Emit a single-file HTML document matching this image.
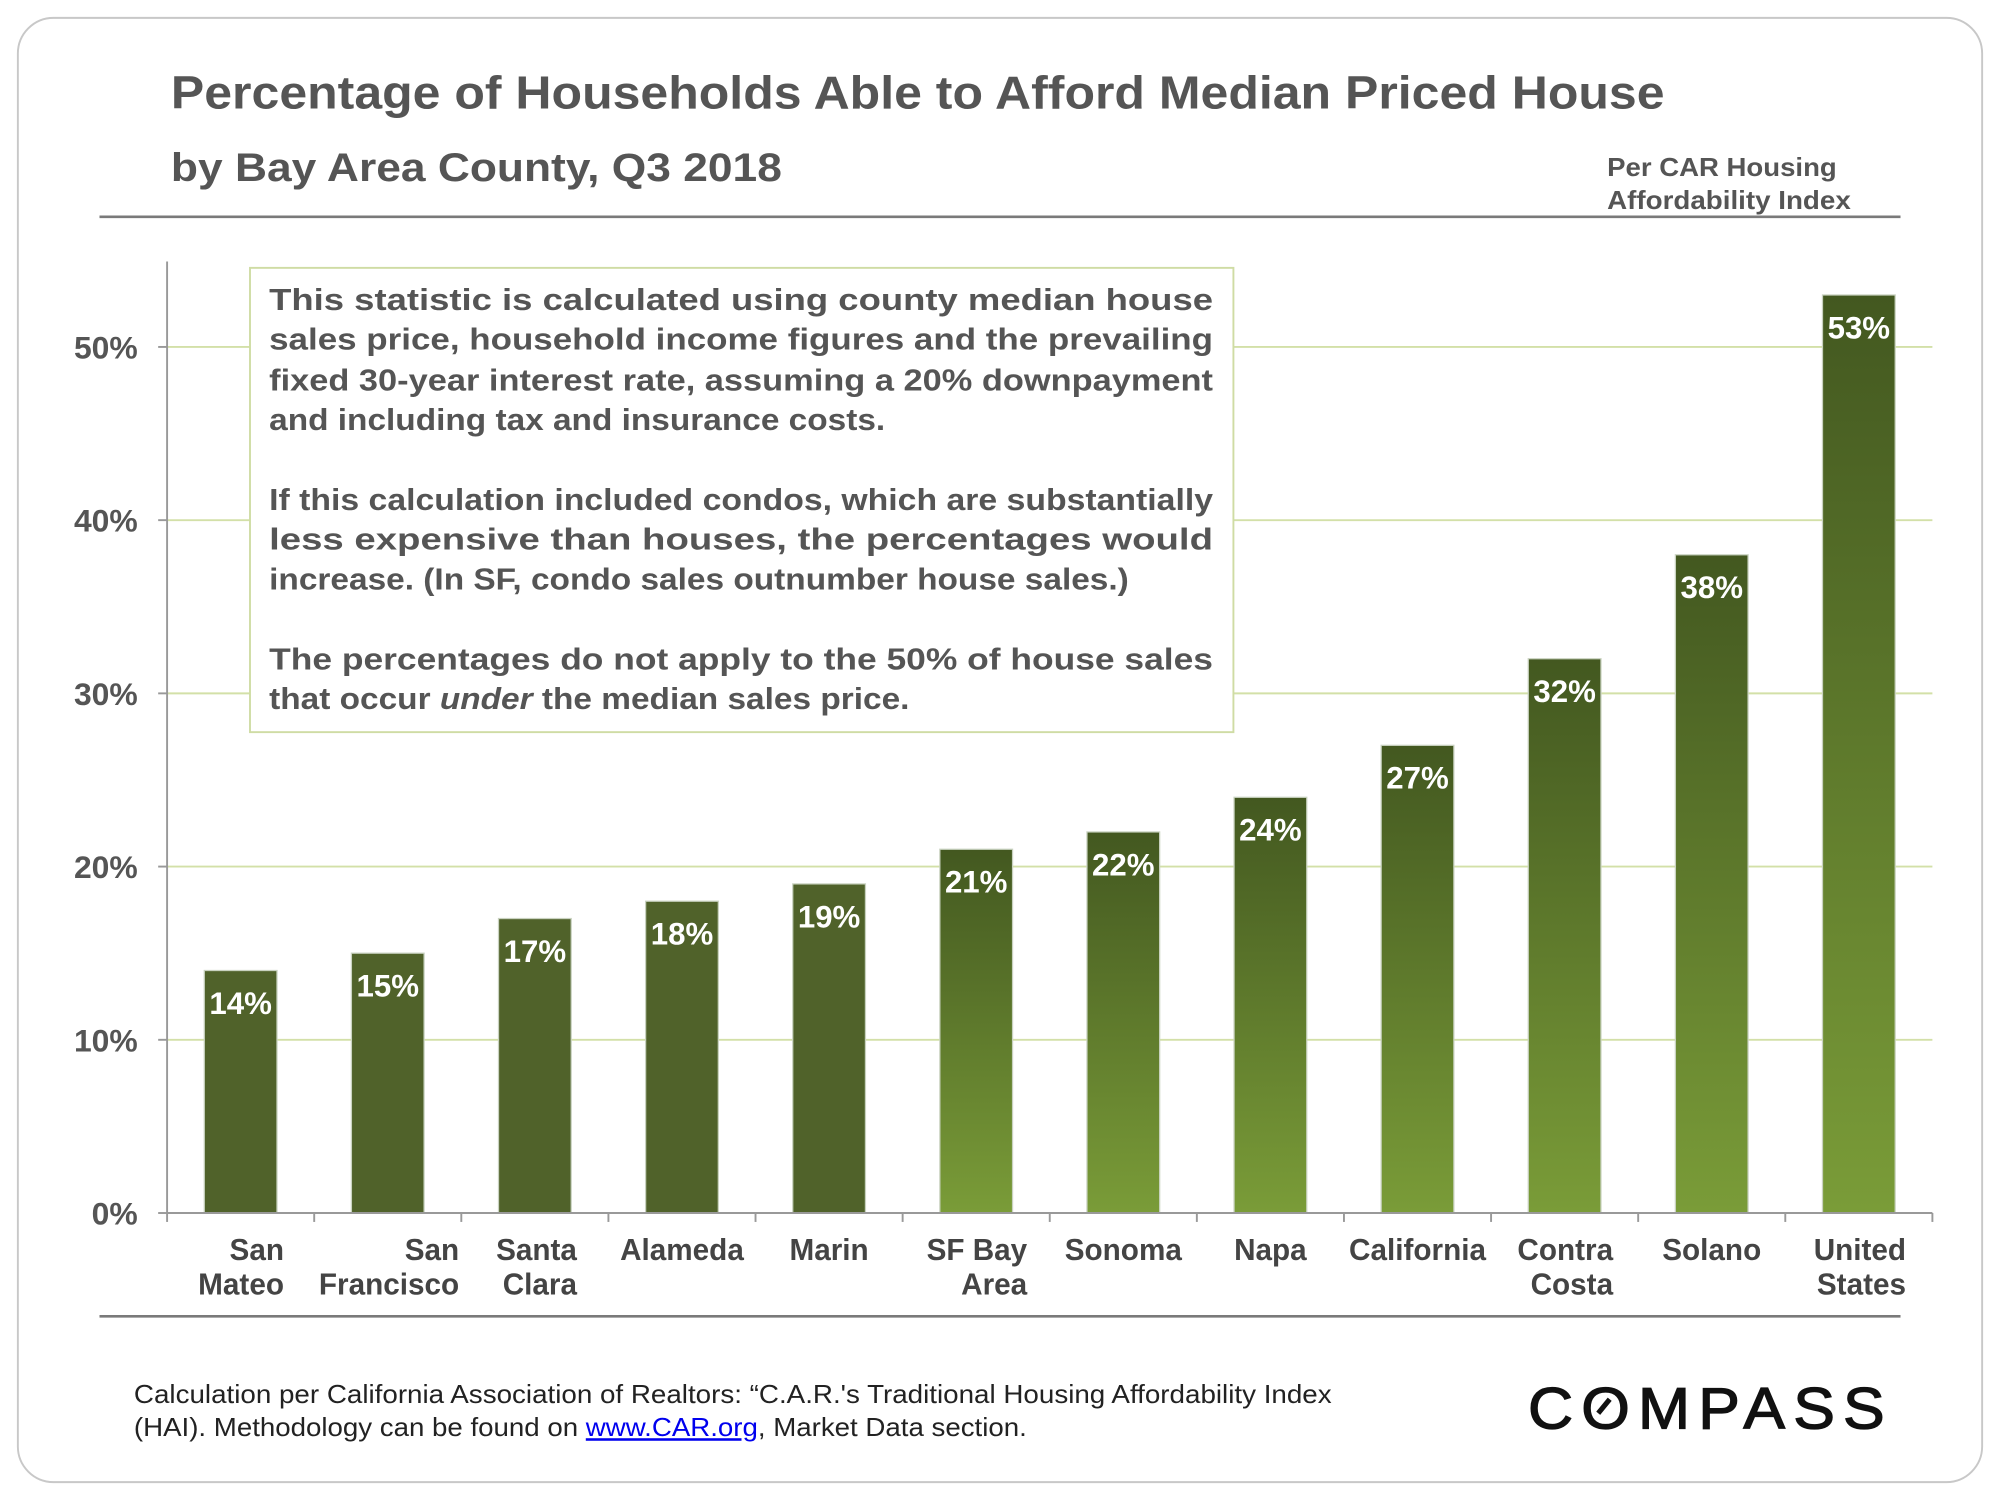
<!DOCTYPE html>
<html><head><meta charset="utf-8">
<style>
html,body{margin:0;padding:0;background:#fff;}
svg{display:block;font-family:"Liberation Sans",Arial,sans-serif;}
</style></head>
<body>
<svg id="chart" width="2000" height="1500" viewBox="0 0 1568 1176" xmlns="http://www.w3.org/2000/svg">
<defs>
<linearGradient id="g" x1="0" y1="0" x2="0" y2="1">
<stop offset="0" stop-color="#435820"/><stop offset="1" stop-color="#7a9c38"/>
</linearGradient>
</defs>
<rect x="14" y="14" width="1540" height="1148" rx="28" fill="#fff" stroke="#c8c8c8" stroke-width="1.5"/>
<text x="134" y="85" font-size="36" font-weight="bold" fill="#555" textLength="1171" lengthAdjust="spacingAndGlyphs">Percentage of Households Able to Afford Median Priced House</text>
<text x="134" y="142" font-size="31" font-weight="bold" fill="#555" textLength="479" lengthAdjust="spacingAndGlyphs">by Bay Area County, Q3 2018</text>
<g font-size="20" font-weight="bold" fill="#555">
<text x="1260" y="138" textLength="180" lengthAdjust="spacingAndGlyphs">Per CAR Housing</text>
<text x="1260" y="164" textLength="191" lengthAdjust="spacingAndGlyphs">Affordability Index</text>
</g>
<line x1="78" y1="170" x2="1490" y2="170" stroke="#7a7a7a" stroke-width="2"/>
<g id="grid"></g>
<g id="bars"></g>
<g id="axes"></g>
<g>
<rect x="196" y="210" width="771" height="364" fill="#fff" stroke="#cfdca4" stroke-width="1.5"/>
<g font-size="24" font-weight="bold" fill="#555">
<text x="211" y="243" textLength="740" lengthAdjust="spacingAndGlyphs">This statistic is calculated using county median house</text>
<text x="211" y="274" textLength="740" lengthAdjust="spacingAndGlyphs">sales price, household income figures and the prevailing</text>
<text x="211" y="306" textLength="740" lengthAdjust="spacingAndGlyphs">fixed 30-year  interest rate, assuming a 20% downpayment</text>
<text x="211" y="337" textLength="483" lengthAdjust="spacingAndGlyphs">and including tax and insurance costs.</text>
<text x="211" y="400" textLength="740" lengthAdjust="spacingAndGlyphs">If this calculation included condos, which are substantially</text>
<text x="211" y="431" textLength="740" lengthAdjust="spacingAndGlyphs">less expensive than houses, the percentages would</text>
<text x="211" y="462" textLength="674" lengthAdjust="spacingAndGlyphs">increase. (In SF, condo sales outnumber house sales.)</text>
<text x="211" y="525" textLength="740" lengthAdjust="spacingAndGlyphs">The percentages do not apply to the 50% of house sales</text>
<text x="211" y="556" textLength="502" lengthAdjust="spacingAndGlyphs">that occur <tspan font-style="italic">under</tspan> the median sales price.</text>
</g>
</g>
<line x1="78" y1="1032" x2="1490" y2="1032" stroke="#7a7a7a" stroke-width="2"/>
<g font-size="20" fill="#222">
<text x="105" y="1100" textLength="939" lengthAdjust="spacingAndGlyphs">Calculation per California Association of Realtors: “C.A.R.'s Traditional Housing Affordability Index</text>
<text x="105" y="1126" textLength="700" lengthAdjust="spacingAndGlyphs">(HAI). Methodology can be found on <tspan fill="#0000ee" text-decoration="underline">www.CAR.org</tspan>, Market Data section.</text>
</g>
<g>
<text x="1198" y="1120" font-size="46" fill="#111" stroke="#111" stroke-width="1" textLength="286" lengthAdjust="spacingAndGlyphs" letter-spacing="6">COMPASS</text>
<line x1="1253" y1="1108" x2="1262" y2="1097" stroke="#111" stroke-width="4"/>
</g>
</svg>
<script>
const categories = ["San Mateo","San Francisco","Santa Clara","Alameda","Marin","SF Bay Area","Sonoma","Napa","California","Contra Costa","Solano","United States"];
const values = [14,15,17,18,19,21,22,24,27,32,38,53];
const valueLabels = ["14%","15%","17%","18%","19%","21%","22%","24%","27%","32%","38%","53%"];
const yTicks = [0,10,20,30,40,50];
const yTickLabels = ["0%","10%","20%","30%","40%","50%"];
const labelLines = [["San","Mateo"],["San","Francisco"],["Santa","Clara"],["Alameda"],["Marin"],["SF Bay","Area"],["Sonoma"],["Napa"],["California"],["Contra","Costa"],["Solano"],["United","States"]];
const solidCount = 5;

const NS = "http://www.w3.org/2000/svg";
const X0 = 131, X1 = 1515, Y0 = 951, PX_PER_UNIT = (951 - 272) / 50;
const band = (X1 - X0) / categories.length;
const xCenter = i => X0 + band * (i + 0.5);
const yScale = v => Y0 - v * PX_PER_UNIT;
const labelShift = [34,56,33,0,0,40,0,0,0,38,0,37];

function mk(tag, attrs, parent) {
  const e = document.createElementNS(NS, tag);
  for (const k in attrs) e.setAttribute(k, attrs[k]);
  parent.appendChild(e);
  return e;
}
function condense(t, f) {
  const w = t.getComputedTextLength();
  t.setAttribute('textLength', (w * f).toFixed(1));
  t.setAttribute('lengthAdjust', 'spacingAndGlyphs');
}
const grid = document.getElementById('grid');
const bars = document.getElementById('bars');
const axes = document.getElementById('axes');

yTicks.forEach((v, i) => {
  const y = yScale(v);
  if (v > 0) {
    const gl = mk('line', {x1: X0, x2: X1, y1: y, y2: y, stroke: '#d3e0a8', 'stroke-width': 1.5}, grid);
    
    
  }
  const tk = mk('line', {x1: X0 - 7, x2: X0, y1: y, y2: y, stroke: '#999', 'stroke-width': 1.5}, axes);
  
  
  const t = mk('text', {x: 108, y: y + 9, 'text-anchor': 'end', 'font-size': 25, 'font-weight': 'bold', fill: '#555'}, axes);
  t.textContent = yTickLabels[i];
  
  
});

const yAxis = mk('line', {x1: X0, x2: X0, y1: 205, y2: Y0, stroke: '#999', 'stroke-width': 1.5}, axes);


const xAxis = mk('line', {x1: X0, x2: X1, y1: Y0, y2: Y0, stroke: '#999', 'stroke-width': 1.5}, axes);


for (let i = 0; i <= categories.length; i++) {
  const x = X0 + band * i;
  const tk = mk('line', {x1: x, x2: x, y1: Y0, y2: Y0 + 7, stroke: '#999', 'stroke-width': 1.5}, axes);
  
  
}

const bw = 57;
values.forEach((v, i) => {
  const cx = xCenter(i), top = yScale(v);
  const r = mk('rect', {x: cx - bw / 2, y: top, width: bw, height: Y0 - top,
    fill: i < solidCount ? '#50622a' : 'url(#g)', stroke: '#c9d2c0', 'stroke-width': 1}, bars);
  
  
  const t = mk('text', {x: cx, y: top + 34, 'text-anchor': 'middle', 'font-size': 25, 'font-weight': 'bold', fill: '#fff'}, bars);
  t.textContent = valueLabels[i];
  
  
  condense(t, 0.98);

  const lines = labelLines[i];
  const sh = labelShift[i];
  lines.forEach((ln, j) => {
    const lt = mk('text', {x: sh ? cx + sh : cx, y: 988 + j * 27, 'text-anchor': sh ? 'end' : 'middle', 'font-size': 24, 'font-weight': 'bold', fill: '#444'}, axes);
    lt.textContent = ln;
    
    
    condense(lt, 0.97);
  });
});
</script>
</body></html>
